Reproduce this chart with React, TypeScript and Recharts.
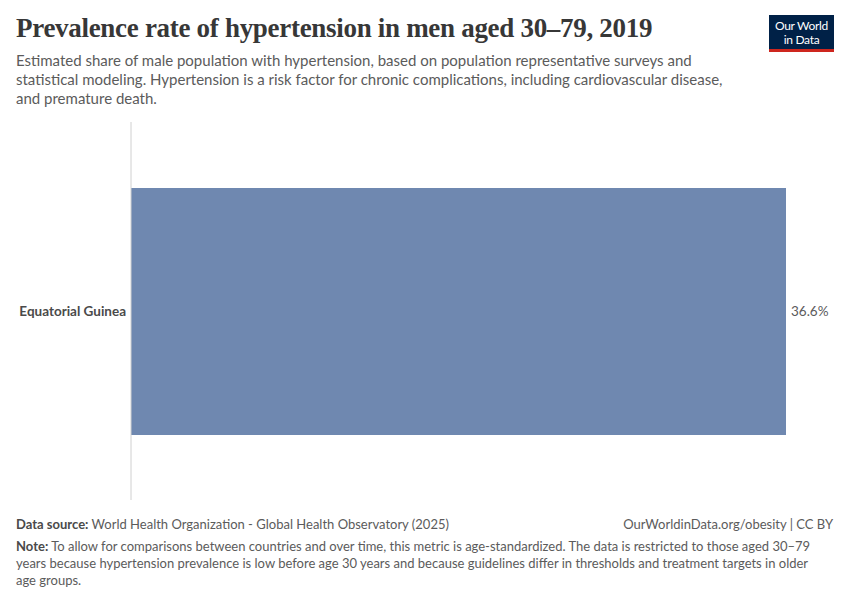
import React from "react";
import { BarChart, Bar, XAxis, YAxis, LabelList } from "recharts";

const countries = ["Equatorial Guinea"];
const values = [36.6];
const data = countries.map((name, i) => ({ name, value: values[i] }));

const font = "Lato, 'Noto Sans', sans-serif";

export default function App() {
  return (
    <div style={{ position: "absolute", left: 0, top: 0, width: 850, height: 600, background: "#fff", fontFamily: font }}>
      <div style={{ position: "absolute", left: 16, top: 13, fontFamily: "'Liberation Serif', 'DejaVu Serif', serif", fontSize: 27, fontWeight: 600, color: "#373737", letterSpacing: -0.3, whiteSpace: "nowrap" }}>
        Prevalence rate of hypertension in men aged 30–79, 2019
      </div>
      <div style={{ position: "absolute", left: 16, top: 51, width: 720, fontSize: 15, lineHeight: "19px", color: "#5b5b5b" }}>
        Estimated share of male population with hypertension, based on population representative surveys and statistical modeling. Hypertension is a risk factor for chronic complications, including cardiovascular disease, and premature death.
      </div>
      <div style={{ position: "absolute", left: 769, top: 15, width: 65, height: 37, background: "#002147", color: "#fff", fontSize: 12, lineHeight: "14px", textAlign: "center", letterSpacing: -0.3, boxSizing: "border-box", paddingTop: 4 }}>
        Our World<br />in Data
        <div style={{ position: "absolute", left: 0, bottom: 0, width: 65, height: 3, background: "#ce261e" }} />
      </div>
      <div style={{ position: "absolute", left: 0, top: 0 }}>
        <BarChart width={850} height={600} data={data} layout="vertical" margin={{ top: 122, bottom: 100, left: 0, right: 64 }}>
          <XAxis type="number" hide domain={[0, 36.6]} />
          <YAxis
            type="category"
            dataKey="name"
            width={131}
            tickLine={false}
            tickSize={0}
            tickMargin={5}
            axisLine={{ stroke: "#d0d0d0" }}
            tick={{ fill: "#4a4a4a", fontSize: 13.5, fontWeight: 700, fontFamily: font }}
          />
          <Bar dataKey="value" fill="#6f88b0" barSize={247} isAnimationActive={false}>
            <LabelList dataKey="value" position="right" offset={5} formatter={(v: any) => `${v}%`} style={{ fill: "#5b5b5b", fontSize: 13.5, fontFamily: font }} />
          </Bar>
        </BarChart>
      </div>
      <div style={{ position: "absolute", left: 16, top: 516, fontSize: 13, color: "#5b5b5b", whiteSpace: "nowrap" }}>
        <b style={{ color: "#4a4a4a" }}>Data source:</b> World Health Organization - Global Health Observatory (2025)
      </div>
      <div style={{ position: "absolute", right: 17, top: 516, fontSize: 13, color: "#5b5b5b", whiteSpace: "nowrap" }}>
        OurWorldinData.org/obesity | CC BY
      </div>
      <div style={{ position: "absolute", left: 16, top: 538, width: 800, fontSize: 13, lineHeight: "17px", color: "#5b5b5b" }}>
        <b style={{ color: "#4a4a4a" }}>Note:</b> To allow for comparisons between countries and over time, this metric is age-standardized. The data is restricted to those aged 30–79 years because hypertension prevalence is low before age 30 years and because guidelines differ in thresholds and treatment targets in older age groups.
      </div>
    </div>
  );
}
